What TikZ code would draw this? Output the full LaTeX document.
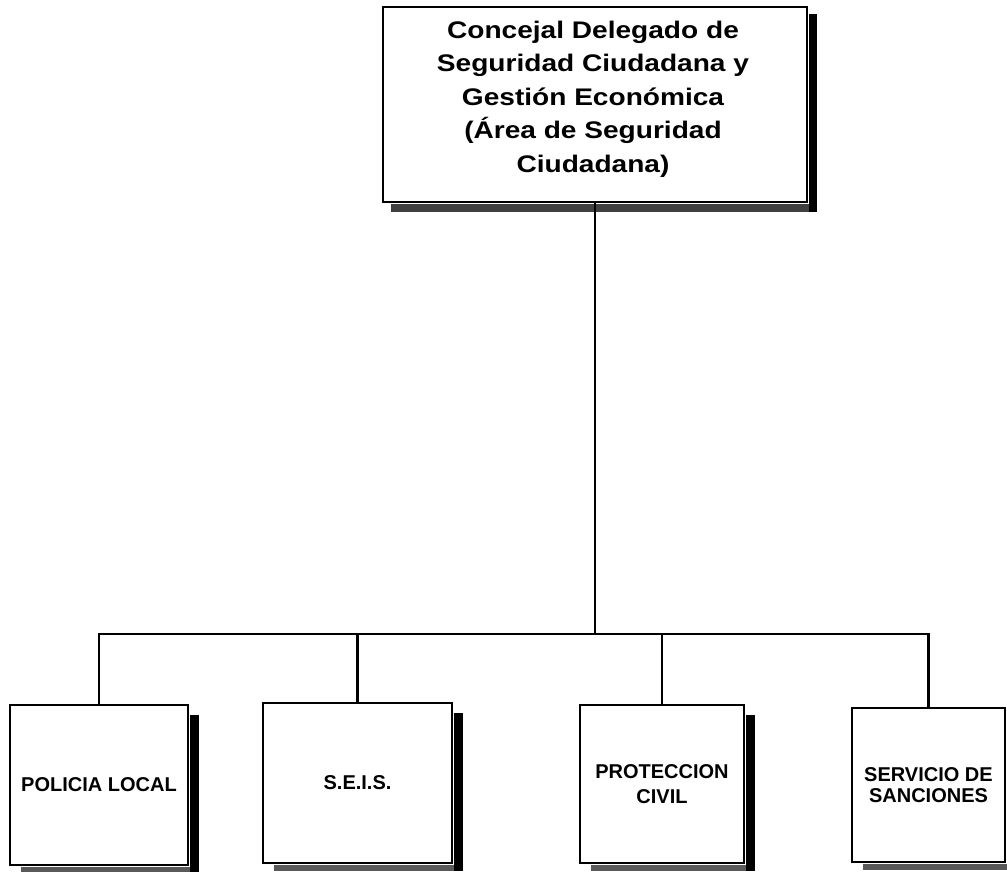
\documentclass[tikz,border=0pt]{standalone}
\usepackage{fontspec}
\setmainfont{Liberation Sans}
\newfontfamily\topfont{Liberation Sans}[FakeStretch=1.17]
\usetikzlibrary{calc}
\begin{document}
\begin{tikzpicture}[x=1pt,y=-1pt,
  box/.style={draw=black, line width=1.6pt, fill=white, align=center, inner sep=0pt},
  conn/.style={line width=2.2pt},
  rshadow/.style={fill=black},
  bshadow/.style={fill=black!65},
  toptext/.style={font=\topfont\bfseries\fontsize{24}{33.5}\selectfont, align=center, inner sep=0pt},
  subtext/.style={font=\bfseries\fontsize{20}{25}\selectfont}]
\useasboundingbox (0,0) rectangle (1007,871);

% boxes
\node[box, minimum width=424pt, minimum height=195pt] (top) at (595,104.5) {};
\node[toptext] (toplabel) at (593,99)
  {Concejal Delegado de\\Seguridad Ciudadana y\\Gestión Económica\\(Área de Seguridad\\Ciudadana)};
\node[box, subtext, minimum width=178pt, minimum height=160pt] (b1) at (99,785) {POLICIA LOCAL};
\node[box, subtext, minimum width=189pt, minimum height=160pt] (b2) at (357.5,783) {S.E.I.S.};
\node[box, subtext, minimum width=164pt, minimum height=158pt] (b3) at (662,784) {PROTECCION\\CIVIL};
\node[box, font=\bfseries\fontsize{20}{21}\selectfont, minimum width=153pt, minimum height=154pt] (b4) at (928.5,785) {SERVICIO DE\\SANCIONES};

% shadows
\fill[black!75] ($(top.south west)+(9,1)$) rectangle ($(top.south east)+(9,9)$);
\fill[rshadow] ($(top.north east)+(1,8)$) rectangle ($(top.south east)+(9,9)$);
\foreach \n in {b1,b2,b3,b4} {
  \fill[bshadow] ($(\n.south west)+(12,1)$) rectangle ($(\n.south east)+(10,7)$);
  \fill[rshadow] ($(\n.north east)+(1,11)$) rectangle ($(\n.south east)+(10,7)$);
}

% connectors
\coordinate (bus) at (596,634);
\draw[conn] (top.south) -- (top.south |- bus);
\draw[conn] (b1.north) -- (b1.north |- bus) -- (b4.north |- bus) -- (b4.north);
\draw[conn] (b2.north) -- (b2.north |- bus);
\draw[conn] (b3.north) -- (b3.north |- bus);
\end{tikzpicture}
\end{document}
